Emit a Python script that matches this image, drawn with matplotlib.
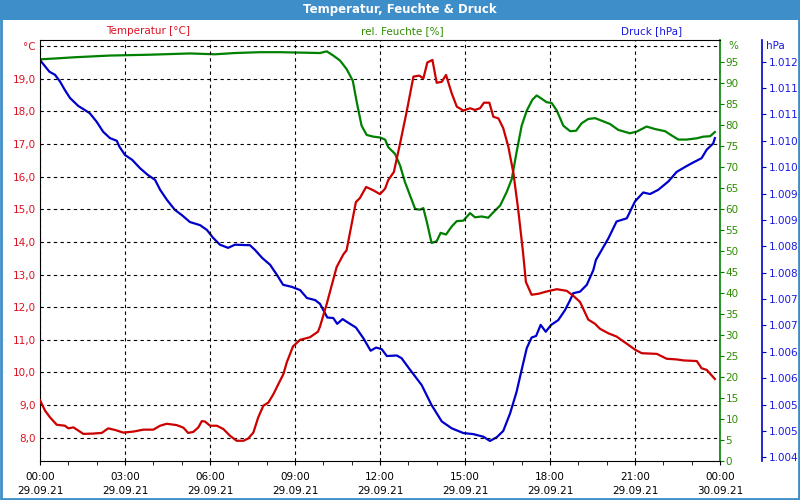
import numpy as np
import matplotlib
matplotlib.use('Agg')
import matplotlib.pyplot as plt
from matplotlib.patches import Rectangle

# time axis labels (every 3 h)
tick_hours = [0, 3, 6, 9, 12, 15, 18, 21, 24]
tick_labels = ['00:00\n29.09.21', '03:00\n29.09.21', '06:00\n29.09.21', '09:00\n29.09.21',
               '12:00\n29.09.21', '15:00\n29.09.21', '18:00\n29.09.21', '21:00\n29.09.21',
               '00:00\n30.09.21']

# temperature [°C]
temp_h = [0.00, 0.18, 0.35, 0.59, 0.88, 1.00, 1.18, 1.53, 1.88, 2.18, 2.41, 2.65, 2.94, 3.29,
          3.65, 4.00, 4.24, 4.47, 4.82, 5.06, 5.23, 5.41, 5.59, 5.71, 5.82, 6.00, 6.24, 6.47,
          6.71, 6.94, 7.18, 7.35, 7.53, 7.70, 7.88, 8.06, 8.24, 8.41, 8.59, 8.71, 8.93, 9.18,
          9.53, 9.81, 9.88, 10.12, 10.47, 10.71, 10.82, 11.15, 11.29, 11.51, 11.76, 12.00,
          12.18, 12.29, 12.49, 12.71, 12.94, 13.18, 13.39, 13.53, 13.67, 13.85, 14.00, 14.18,
          14.33, 14.53, 14.71, 14.94, 15.18, 15.35, 15.53, 15.67, 15.86, 16.00, 16.18, 16.35,
          16.53, 16.71, 16.88, 17.04, 17.15, 17.35, 17.59, 17.88, 18.24, 18.59, 18.82, 19.06,
          19.35, 19.59, 19.76, 20.06, 20.35, 20.71, 21.00, 21.24, 21.77, 22.12, 22.47, 22.71,
          23.18, 23.35, 23.53, 23.82]
temp = [9.15, 8.83, 8.63, 8.40, 8.37, 8.29, 8.32, 8.12, 8.13, 8.15, 8.29, 8.24, 8.16, 8.19,
        8.25, 8.25, 8.37, 8.43, 8.39, 8.31, 8.15, 8.18, 8.32, 8.51, 8.50, 8.37, 8.37, 8.27,
        8.06, 7.91, 7.91, 7.98, 8.16, 8.62, 8.98, 9.08, 9.34, 9.64, 9.95, 10.31, 10.80, 11.00,
        11.08, 11.25, 11.40, 12.10, 13.23, 13.62, 13.74, 15.22, 15.34, 15.68, 15.58, 15.46,
        15.63, 15.89, 16.14, 17.02, 17.98, 19.06, 19.09, 19.00, 19.49, 19.57, 18.87, 18.90,
        19.11, 18.55, 18.14, 18.02, 18.09, 18.04, 18.09, 18.26, 18.26, 17.83, 17.78, 17.48,
        16.91, 16.10, 14.97, 13.74, 12.77, 12.38, 12.41, 12.48, 12.55, 12.50, 12.35, 12.16,
        11.62, 11.49, 11.34, 11.20, 11.10, 10.88, 10.70, 10.59, 10.57, 10.42, 10.40, 10.37,
        10.35, 10.13, 10.08, 9.80]

# relative humidity [%]
hum_h = [0.00, 0.53, 1.24, 2.47, 3.88, 5.29, 6.18, 6.88, 7.76, 8.47, 9.18, 9.88, 10.12, 10.35,
         10.59, 10.82, 11.04, 11.18, 11.35, 11.53, 11.76, 12.00, 12.18, 12.29, 12.53, 12.71,
         12.88, 13.06, 13.24, 13.41, 13.53, 13.67, 13.82, 14.00, 14.14, 14.33, 14.53, 14.71,
         14.94, 15.18, 15.35, 15.59, 15.82, 16.00, 16.24, 16.47, 16.65, 16.82, 17.00, 17.18,
         17.38, 17.53, 17.71, 17.88, 18.06, 18.24, 18.47, 18.71, 18.92, 19.12, 19.35, 19.59,
         19.82, 20.12, 20.41, 20.82, 21.06, 21.41, 21.71, 22.06, 22.29, 22.53, 22.82, 23.18,
         23.41, 23.65, 23.82]
hum = [95.6, 95.8, 96.1, 96.5, 96.7, 97.0, 96.8, 97.1, 97.3, 97.3, 97.2, 97.1, 97.5, 96.5,
       95.3, 93.3, 90.5, 85.4, 79.8, 77.6, 77.2, 77.0, 76.5, 74.7, 73.1, 70.3, 66.4, 63.2,
       60.0, 59.8, 60.2, 56.4, 51.9, 52.3, 54.3, 53.9, 55.8, 57.1, 57.2, 59.0, 58.0, 58.2,
       57.9, 59.2, 60.8, 64.0, 67.1, 73.5, 79.8, 83.4, 86.0, 87.0, 86.2, 85.4, 85.2, 83.4,
       79.8, 78.5, 78.6, 80.4, 81.4, 81.6, 81.0, 80.2, 78.8, 78.0, 78.4, 79.6, 79.0, 78.5,
       77.5, 76.5, 76.5, 76.8, 77.2, 77.3, 78.3]

# pressure (as shown on the chart)
pres_h = [0.00, 0.18, 0.33, 0.53, 0.71, 0.88, 1.06, 1.35, 1.59, 1.76, 2.00, 2.23, 2.47, 2.71,
          2.80, 3.00, 3.25, 3.53, 3.81, 4.06, 4.24, 4.48, 4.76, 5.01, 5.29, 5.65, 5.89, 6.11,
          6.35, 6.64, 6.88, 7.41, 7.59, 7.84, 8.12, 8.36, 8.58, 8.89, 9.18, 9.42, 9.71, 9.88,
          10.14, 10.35, 10.49, 10.68, 10.88, 11.15, 11.41, 11.67, 11.86, 12.06, 12.24, 12.59,
          12.76, 13.06, 13.47, 13.82, 14.18, 14.53, 14.94, 15.29, 15.65, 15.88, 16.12, 16.35,
          16.59, 16.82, 17.00, 17.18, 17.35, 17.51, 17.67, 17.85, 18.04, 18.29, 18.53, 18.71,
          18.82, 19.06, 19.30, 19.53, 19.62, 20.06, 20.35, 20.71, 21.00, 21.29, 21.53, 21.82,
          22.18, 22.47, 22.82, 23.06, 23.35, 23.53, 23.76, 23.82]
pres = [1.01153, 1.01141, 1.01131, 1.01125, 1.01112, 1.01096, 1.01081, 1.01066, 1.01058,
        1.01052, 1.01036, 1.01017, 1.01005, 1.01000, 1.00989, 1.00973, 1.00964, 1.00948,
        1.00935, 1.00926, 1.00907, 1.00888, 1.00869, 1.00859, 1.00846, 1.00840, 1.00831,
        1.00816, 1.00803, 1.00797, 1.00803, 1.00802, 1.00793, 1.00778, 1.00765, 1.00746,
        1.00727, 1.00723, 1.00717, 1.00702, 1.00698, 1.00691, 1.00665, 1.00664, 1.00653,
        1.00662, 1.00655, 1.00646, 1.00626, 1.00602, 1.00608, 1.00605, 1.00592, 1.00593,
        1.00588, 1.00566, 1.00537, 1.00499, 1.00468, 1.00455, 1.00446, 1.00444, 1.00439,
        1.00431, 1.00438, 1.00450, 1.00483, 1.00524, 1.00566, 1.00607, 1.00627, 1.00630,
        1.00651, 1.00638, 1.00651, 1.00660, 1.00679, 1.00698, 1.00711, 1.00714, 1.00727,
        1.00755, 1.00774, 1.00815, 1.00847, 1.00853, 1.00885, 1.00902, 1.00899, 1.00907,
        1.00923, 1.00941, 1.00952, 1.00959, 1.00967, 1.00983, 1.00995, 1.01005]

temp_ticks = [8, 9, 10, 11, 12, 13, 14, 15, 16, 17, 18, 19, 20]
temp_ticklabels = ['8,0', '9,0', '10,0', '11,0', '12,0', '13,0', '14,0', '15,0', '16,0',
                   '17,0', '18,0', '19,0', '°C']
hum_ticks = list(range(0, 100, 5))
pres_ticks = [1.0040, 1.0045, 1.0050, 1.0055, 1.0060, 1.0065, 1.0070, 1.0075, 1.0080,
              1.0085, 1.0090, 1.0095, 1.0100, 1.0105, 1.0110, 1.0115]
pres_ticklabels = ['1.004', '1.005', '1.005', '1.006', '1.006', '1.007', '1.007', '1.008',
                   '1.008', '1.009', '1.009', '1.010', '1.010', '1.011', '1.011', '1.012']

c_temp = '#cc0000'
c_temp_txt = '#dd1122'
c_hum = '#008000'
c_hum_txt = '#2e8b00'
c_pres = '#0000cc'
c_pres_txt = '#1a1ae0'
bar_blue = '#3d8ec9'

plt.rcParams['font.family'] = 'DejaVu Sans'
plt.rcParams['font.size'] = 7.5

fig = plt.figure(figsize=(8, 5), dpi=100)
fig.patch.set_facecolor('white')

# title bar + frame
fig.patches.append(Rectangle((0, 0.96), 1, 0.04, transform=fig.transFigure,
                             facecolor=bar_blue, edgecolor='none', zorder=0))
fig.patches.append(Rectangle((0.001, 0.002), 0.998, 0.996, transform=fig.transFigure,
                             fill=False, edgecolor=bar_blue, lw=2, zorder=0))
fig.text(0.5, 0.98, 'Temperatur, Feuchte & Druck', color='white', ha='center', va='center',
         fontsize=8.5, fontweight='bold')

ax = fig.add_axes([0.05, 0.078, 0.85, 0.842])
ax.set_xlim(0, 24)
ax.set_ylim(7.29, 20.18)
ax.set_xticks(tick_hours)
ax.set_xticklabels(tick_labels, linespacing=1.5)
ax.set_xticks(np.arange(0, 25, 1), minor=True)
ax.set_yticks(temp_ticks)
ax.set_yticklabels(temp_ticklabels)
ax.tick_params(axis='y', length=0, colors=c_temp_txt, pad=3)
ax.tick_params(axis='x', which='both', length=3, direction='out', pad=5, colors='black')
ax.grid(True, which='major', color='black', ls=(0, (3, 3)), lw=0.8)
for s in ['left', 'bottom', 'top']:
    ax.spines[s].set_color('black')
ax.spines['right'].set_visible(False)

ax2 = ax.twinx()
ax2.set_ylim(0, 100.2)
ax2.set_yticks(hum_ticks)
ax2.set_yticklabels([str(v) for v in hum_ticks])
ax2.tick_params(axis='y', length=3, colors=c_hum, labelcolor=c_hum_txt, pad=1)
for s in ['left', 'bottom', 'top']:
    ax2.spines[s].set_visible(False)
ax2.spines['right'].set_color(c_hum)
ax2.spines['right'].set_linewidth(1.2)

ax3 = ax.twinx()
ax3.set_ylim(1.00393, 1.01191)
ax3.spines['right'].set_position(('axes', 1.0618))
ax3.set_yticks(pres_ticks)
ax3.set_yticklabels(pres_ticklabels)
ax3.tick_params(axis='y', length=3, colors=c_pres, labelcolor=c_pres_txt, pad=2)
for s in ['left', 'bottom', 'top']:
    ax3.spines[s].set_visible(False)
ax3.spines['right'].set_color(c_pres)
ax3.spines['right'].set_linewidth(1.2)

# temperature axes goes on top so the red line is drawn over the others
ax.set_zorder(ax3.get_zorder() + 1)
ax.patch.set_visible(False)

ax2.plot(hum_h, hum, color=c_hum, lw=1.6, zorder=3)
ax3.plot(pres_h, pres, color=c_pres, lw=1.6, zorder=3)
ax.plot(temp_h, temp, color=c_temp, lw=1.6, zorder=4)

# unit labels at the top of the right axes
ax2.text(1.012, 0.9857, '%', transform=ax2.transAxes, color=c_hum_txt, ha='left', va='center')
ax3.text(1.067, 0.9857, 'hPa', transform=ax3.transAxes, color=c_pres_txt, ha='left', va='center')

# series captions above the plot
fig.text(148 / 800, 1 - 31 / 500, 'Temperatur [°C]', color=c_temp_txt, ha='center', va='center')
fig.text(402 / 800, 1 - 31 / 500, 'rel. Feuchte [%]', color=c_hum_txt, ha='center', va='center')
fig.text(652 / 800, 1 - 31 / 500, 'Druck [hPa]', color=c_pres_txt, ha='center', va='center')

fig.savefig('out.png', dpi=100, facecolor=fig.get_facecolor())
